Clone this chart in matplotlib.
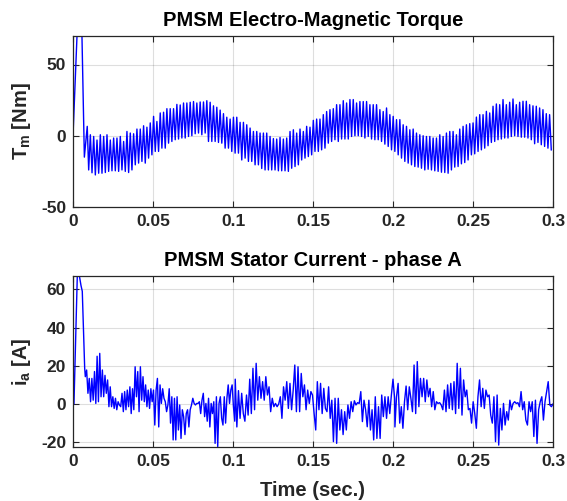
import numpy as np
import matplotlib
matplotlib.use("Agg")
import matplotlib.pyplot as plt

# ---- torque (top panel) ----
# start-up transient (clipped at the top of the axes)
torque_start_t = [0.0, 0.0025, 0.0041, 0.0056, 0.0071, 0.0089]
torque_start = [0.0, 70.0, 70.0, 70.0, -15.0, 6.6]

# ripple: alternating troughs / peaks, one pair per sample period
torque_t0 = 0.0098
torque_dt = 0.00208
torque_lows = [
    -24, -26, -27.5, -26.3, -26.3, -25.8, -25, -24.6, -24.6, -25,
    -24, -25, -25.8, -24, -20.4, -19.2, -18, -19.2, -15.7, -13.4,
    -11, -11, -8.7, -8.7, -5.2, -4, -2.8, -2.3, -1.6, -1.6,
    -0.5, 0, 1.4, 1.9, 0.7, 1.9, -4, -4, -4, -4.7,
    -5.2, -8.7, -8.7, -11,
    -12.2, -12.2, -17, -15.7, -18, -18, -20.4, -20.4, -23, -24,
    -24, -24, -24, -24.6, -24.6, -24.6, -25, -22.8, -21.6, -20.4,
    -17, -15.7, -14.6, -13.4, -11, -11, -9.9, -8.7, -5.2, -4,
    -2.8, -4, -2.3, -2.3, -2.3, -0.5, 0, 0, -0.5, -1.6,
    -0.5, -2.3, -2.8, -2.8, -4, -5.9, -7.5, -9.9, -11,
    -13.4, -15.7, -18, -19.2, -20.4, -21.6, -22, -22.8, -24, -23.5,
    -24, -24.6, -25, -25.6, -25.8, -26.3, -24, -22, -21.6, -19.7,
    -18.8, -17, -13.4, -12.7, -11, -9.9, -8.7, -7, -4.7, -4,
    -2.8, -2.3, -1.6, -1.6, -0.5, 0, -0.5, -1, -1, -1.6,
    -2.8, -5.6, -4.7, -6.3, -7.5, -8.7, -9.9,
]
torque_highs = [
    0.7, -0.5, -3, 0.7, -0.5, 0.7, -3, -1.6, -1.6, -0.5,
    -4, 3, 1.9, 1.4, 4.7, 4.7, 7, 6, 9, 13.6,
    10, 16, 16.5, 19, 19, 19, 22, 21.6, 23, 23,
    23.5, 24, 23, 23.7, 23.7, 24.6, 23.5, 21, 20, 18,
    15.5, 13, 11.7, 13,
    13, 9.4, 9.4, 7.7, 5.4, 3, 3, 1.9, 1.9, 1.9,
    -0.5, -2, -2.3, -1.2, -2.3, -1.6, 3, 4.2, 1.9, 4.7,
    3, 6.6, 6, 10.8, 11.7, 11.7, 14.8, 17, 18.3, 19,
    21.8, 21.8, 24.6, 23, 25.4, 25.4, 23, 24, 24, 24,
    21.8, 21.8, 21.8, 18.3, 17, 19.5, 14.8,
    13.6, 11.3, 11.3, 7.7, 6.6, 4.2, 4.7, 1.9, 0.7, 0,
    -0.5, -0.5, -1.6, -1.6, 0.7, -0.5, 1.9, 3, 3, 0.7,
    4.7, 6.6, 7.7, 8.5, 9, 13.1, 14.8, 14.8, 17.1, 16,
    20.7, 22.3, 21.8, 25.4, 21.8, 23.5, 25.8, 21.8, 23.5, 24.2,
    24.2, 21.8, 21, 20.7, 19.5, 18.3, 15.5, 14.8,
]

# ---- phase A current (bottom panel) ----
ia_start_t = [0.0, 0.0006, 0.0027, 0.0040, 0.0050, 0.0058, 0.0073]
ia_start = [0.0, 0.0, 67.5, 67.0, 62.0, 59.0, 18.7]

ia_seg_t = [(0.0077, 0.1011), (0.1014, 0.2010), (0.2012, 0.3)]
ia_seg1 = [
    14.3, 17.8, 5.6, 13.4, 1.2, 13.4, 2, 17, 0.3, 25,
    1.2, 26.5, 3.8, 17.8, 3.8, 15, 5.6, 12.6, -1.4, 9,
    -1.4, 3.8, -2.3, 3, -3, 1.2, -0.5, -1.4, 5.6, -4,
    6.5, -3, 7.3, -1.4, 9, -5, 8, -3, 19.5, 3.8,
    17, -4, 19.5, 2, 14.3, 1.2, 10, -1.4, 7.3, -2.3,
    8, 1.2, 7.3, -11, 7.3, 13.4, -12, 10, 0.3, 8,
    3, 1.2, -4, -0.5, 8, -10, 3.8, -18.8, 3, -18.8,
    3.8, -13.6, -0.5, -18, -3, -6.6, -16, -5, -3, -12,
    -3, -0.5, 3, 0.3, -0.5, 0.3, 0.3, 1.2, -5, 2,
    5.6, -6.6, 0.3, -9, 3, -12, 0.3, -5, 1.2, -20.6,
    3.8, -22.3, 0.3, 3.8, -7.5, -11, 3.8, -10, 3, 10,
    0.3, 7.3, 10, -1.4, -9,
]
ia_seg2 = [
    13, -12, 7, -7.5, 5.6, -5, -9, 4.7, -5.8, 13,
    -5, 18.7, -3, 21.3, 2, 14.3, 3, 11.7, 2, 14.3,
    4.7, 9, -4, 3, -1.4, 0.3, -1.4, 0, 3.8, -7.5,
    9, 2, 11.7, -2.3, 10.8, -3, 7.3, 20.4, -4, 19.5,
    -4, 16, 3.8, 10, -3, 7.3, 0.3, 6.5, 4.7, -5,
    -13.6, 11.7, -3, 10.8, -5, 8.2, -2.3, -4, 9, -7.5,
    2, -19.7, 3, -20.6, 3, -13.6, -3, -16, -4, -13.6,
    -0.5, -7.5, 1.2, -4, 1.7, -0.5, 0.7, 0.3, 6.5, -9.2,
    2, -3, -11.9, 2, -13.6, -3, -18.8, 3.8, -18, -1.4,
    -18, 4.7, -6.6, 3.8, -7.5, 3.8, -5, 4.7, 13, 3,
]
ia_seg3 = [
    -12, 3.8, 10.8, -10, -1.4, -12.7, 1.2, 9.4, -3, 9,
    3, -4, 20.4, -5, 22.2, -1.4, 13.4, 3.8, 13.4, 1.2,
    12.6, 3.8, 8.2, -1.4, 6.5, -3, 1.2, 0.3, 0.7, -0.5,
    -3, 7.3, -4, 10, -2.3, 10.8, -3, 11.7, -5, 21.3,
    -2.3, 18.7, -5.8, 12.6, 3.8, 7.3, -3, -2.3, -10, 1.2,
    -5, -12.7, 3.8, 12.6, -1.4, 8.2, -2.3, 7.3, 3.8, 4.7,
    -5.8, -10, 3.8, -19.7, 4.7, -21.5, -2.3, -13.6, 0.3, -11,
    -4, -8.4, 2, -3, 0.3, 1.2, 0.3, 0.7, -1.4, 6.5,
    -3, 1.2, -8.4, -11, 1.2, -4, 1.2, -17, 2, -20.6,
    -3, 1.2, 3.8, -8.4, 1.2, 6.5, 11.7, -0.5, -1.4, 0,
]

x_ticks = [0, 0.05, 0.1, 0.15, 0.2, 0.25, 0.3]
x_ticklabels = ["0", "0.05", "0.1", "0.15", "0.2", "0.25", "0.3"]
torque_yticks = [-50, 0, 50]
ia_yticks = [-20, 0, 20, 40, 60]

# ---- assemble series ----
lo = np.array(torque_lows)
hi = np.array(torque_highs)
t_lo = torque_t0 + torque_dt * np.arange(len(lo))
t_hi = t_lo[:len(hi)] + torque_dt / 2
t_rip = np.empty(len(lo) + len(hi))
v_rip = np.empty(len(lo) + len(hi))
t_rip[0::2], v_rip[0::2] = t_lo, lo
t_rip[1::2], v_rip[1::2] = t_hi, hi
torque_t = np.concatenate([torque_start_t, t_rip])
torque = np.concatenate([torque_start, v_rip])

ia_t = list(ia_start_t)
ia = list(ia_start)
for (a, b), seg in zip(ia_seg_t, [ia_seg1, ia_seg2, ia_seg3]):
    ia_t += list(np.linspace(a, b, len(seg)))
    ia += seg

# ---- style ----
dark = "#262626"
plt.rcParams["font.family"] = ["Liberation Sans", "DejaVu Sans"]
plt.rcParams["font.weight"] = "bold"
plt.rcParams["axes.unicode_minus"] = False
plt.rcParams["mathtext.fontset"] = "custom"
plt.rcParams["mathtext.rm"] = "Liberation Sans:bold"
plt.rcParams["mathtext.it"] = "Liberation Sans:bold"
plt.rcParams["mathtext.bf"] = "Liberation Sans:bold"

fig = plt.figure(figsize=(5.67, 5.01), dpi=100)
W, H = 567, 501
ax1 = fig.add_axes([73 / W, 1 - 207 / H, 480 / W, 171 / H])
ax2 = fig.add_axes([73 / W, 1 - 447 / H, 480 / W, 171 / H])


def style(ax, title, ylabel, yticks, ylim):
    ax.set_xlim(0, 0.3)
    ax.set_ylim(*ylim)
    ax.set_xticks(x_ticks)
    ax.set_xticklabels(x_ticklabels)
    ax.set_yticks(yticks)
    ax.grid(True, color=dark, alpha=0.15, linewidth=0.8)
    ax.set_axisbelow(True)
    ax.tick_params(direction="in", top=True, right=True, length=4,
                   width=0.8, colors=dark, labelsize=12.5, pad=5)
    for s in ax.spines.values():
        s.set_color(dark)
        s.set_linewidth(0.9)
    ax.set_title(title, fontsize=14.5, fontweight="bold", color="black", pad=7)
    ax.set_ylabel(ylabel, fontsize=14.5, fontweight="bold", color=dark, labelpad=6)


ax1.plot(torque_t, torque, color="blue", linewidth=1.0)
style(ax1, "PMSM Electro-Magnetic Torque", r"$T_m$ [Nm]", torque_yticks, (-50, 70))

ax2.plot(ia_t, ia, color="blue", linewidth=1.0)
style(ax2, "PMSM Stator Current - phase A", r"$i_a$ [A]", ia_yticks, (-22.5, 67))
ax2.set_xlabel("Time (sec.)", fontsize=14.5, fontweight="bold", color=dark, labelpad=9)

fig.savefig("out.png", dpi=100)
